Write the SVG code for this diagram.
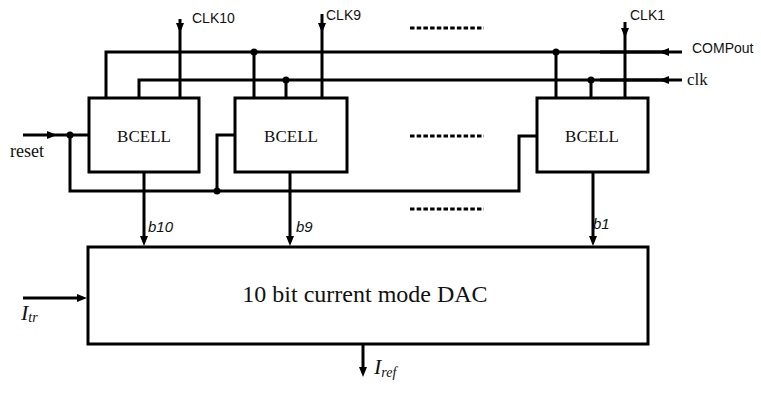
<svg xmlns="http://www.w3.org/2000/svg" width="761" height="394" viewBox="0 0 761 394">
<style>
.w{fill:none;stroke:#000;stroke-width:3}
.box{fill:#fff;stroke:#000;stroke-width:3}
.dot{fill:#000}
.dots{fill:none;stroke:#000;stroke-width:3;stroke-dasharray:4.5 2.2}
.sans{font-family:"Liberation Sans",Arial,sans-serif;font-size:14px;fill:#111}
.ser{font-family:"Liberation Serif","Times New Roman",serif;fill:#111}
.bl{font-family:"Liberation Sans",Arial,sans-serif;font-size:15px;font-style:italic;fill:#111}
</style>
<defs>
<marker id="ah" markerUnits="userSpaceOnUse" markerWidth="10" markerHeight="8" refX="0" refY="4" orient="auto" overflow="visible">
<path d="M0,0 L10,4 L0,8 z" fill="#000"/>
</marker>
</defs>
<g id="connectors">
<!-- COMPout bus -->
<path class="w" d="M682,52 H669 H600" marker-mid="url(#ah)"/>
<path class="w" d="M669,52 H106 V98"/>
<path class="w" d="M254,52 V98"/>
<path class="w" d="M556,52 V98"/>
<!-- clk bus -->
<path class="w" d="M682,80 H669 H600" marker-mid="url(#ah)"/>
<path class="w" d="M669,80 H139 V98"/>
<path class="w" d="M286,80 V98"/>
<path class="w" d="M591,80 V98"/>
<!-- CLK inputs -->
<path class="w" d="M180,19 V23 V98" marker-mid="url(#ah)"/>
<path class="w" d="M322,14 V23 V98" marker-mid="url(#ah)"/>
<path class="w" d="M625,22 V28 V98" marker-mid="url(#ah)"/>
<!-- reset -->
<path class="w" d="M23,135 H47 H89" marker-mid="url(#ah)"/>
<path class="w" d="M70,135 V191 H519 V136 H537"/>
<path class="w" d="M217,191 V135 H235"/>
<!-- bit outputs -->
<path class="w" d="M144,172 V236" marker-end="url(#ah)"/>
<path class="w" d="M290,172 V236" marker-end="url(#ah)"/>
<path class="w" d="M593,172 V236" marker-end="url(#ah)"/>
<!-- Itr / Iref -->
<path class="w" d="M23,298 H77" marker-end="url(#ah)"/>
<path class="w" d="M363,345 V367" marker-end="url(#ah)"/>
<!-- junction dots -->
<circle class="dot" cx="254" cy="52" r="3.5"/>
<circle class="dot" cx="286" cy="80" r="3.5"/>
<circle class="dot" cx="556" cy="52" r="3.5"/>
<circle class="dot" cx="591" cy="80" r="3.5"/>
<circle class="dot" cx="70" cy="135" r="3.5"/>
<circle class="dot" cx="217" cy="191" r="3.5"/>
<!-- ellipsis rows -->
<line class="dots" x1="410" y1="28" x2="484" y2="28"/>
<line class="dots" x1="410" y1="136" x2="484" y2="136"/>
<line class="dots" x1="410" y1="209" x2="484" y2="209"/>
</g>
<g id="bcell10">
<rect class="box" x="89" y="98" width="110" height="74"/>
<text class="ser" x="144" y="142" font-size="17" text-anchor="middle">BCELL</text>
</g>
<g id="bcell9">
<rect class="box" x="235" y="98" width="112" height="74"/>
<text class="ser" x="291" y="142" font-size="17" text-anchor="middle">BCELL</text>
</g>
<g id="bcell1">
<rect class="box" x="537" y="98" width="111" height="74"/>
<text class="ser" x="592" y="142" font-size="17" text-anchor="middle">BCELL</text>
</g>
<g id="dac">
<rect class="box" x="88" y="247" width="560" height="97"/>
<text class="ser" x="365" y="302" font-size="24" text-anchor="middle">10 bit current mode DAC</text>
</g>
<g id="labels">
<text class="sans" x="192" y="23">CLK10</text>
<text class="sans" x="326" y="20">CLK9</text>
<text class="sans" x="630" y="20">CLK1</text>
<text class="sans" x="692" y="53">COMPout</text>
<text class="ser" x="687" y="85" font-size="17">clk</text>
<text class="ser" x="10" y="157" font-size="18">reset</text>
<text class="bl" x="148" y="232">b10</text>
<text class="bl" x="296" y="232">b9</text>
<text class="bl" x="593" y="229">b1</text>
<text class="ser" x="21" y="320" font-size="22" font-style="italic">I<tspan font-size="14" dy="2">tr</tspan></text>
<text class="ser" x="374" y="374" font-size="22" font-style="italic">I<tspan font-size="14" dy="3">ref</tspan></text>
</g>
</svg>
